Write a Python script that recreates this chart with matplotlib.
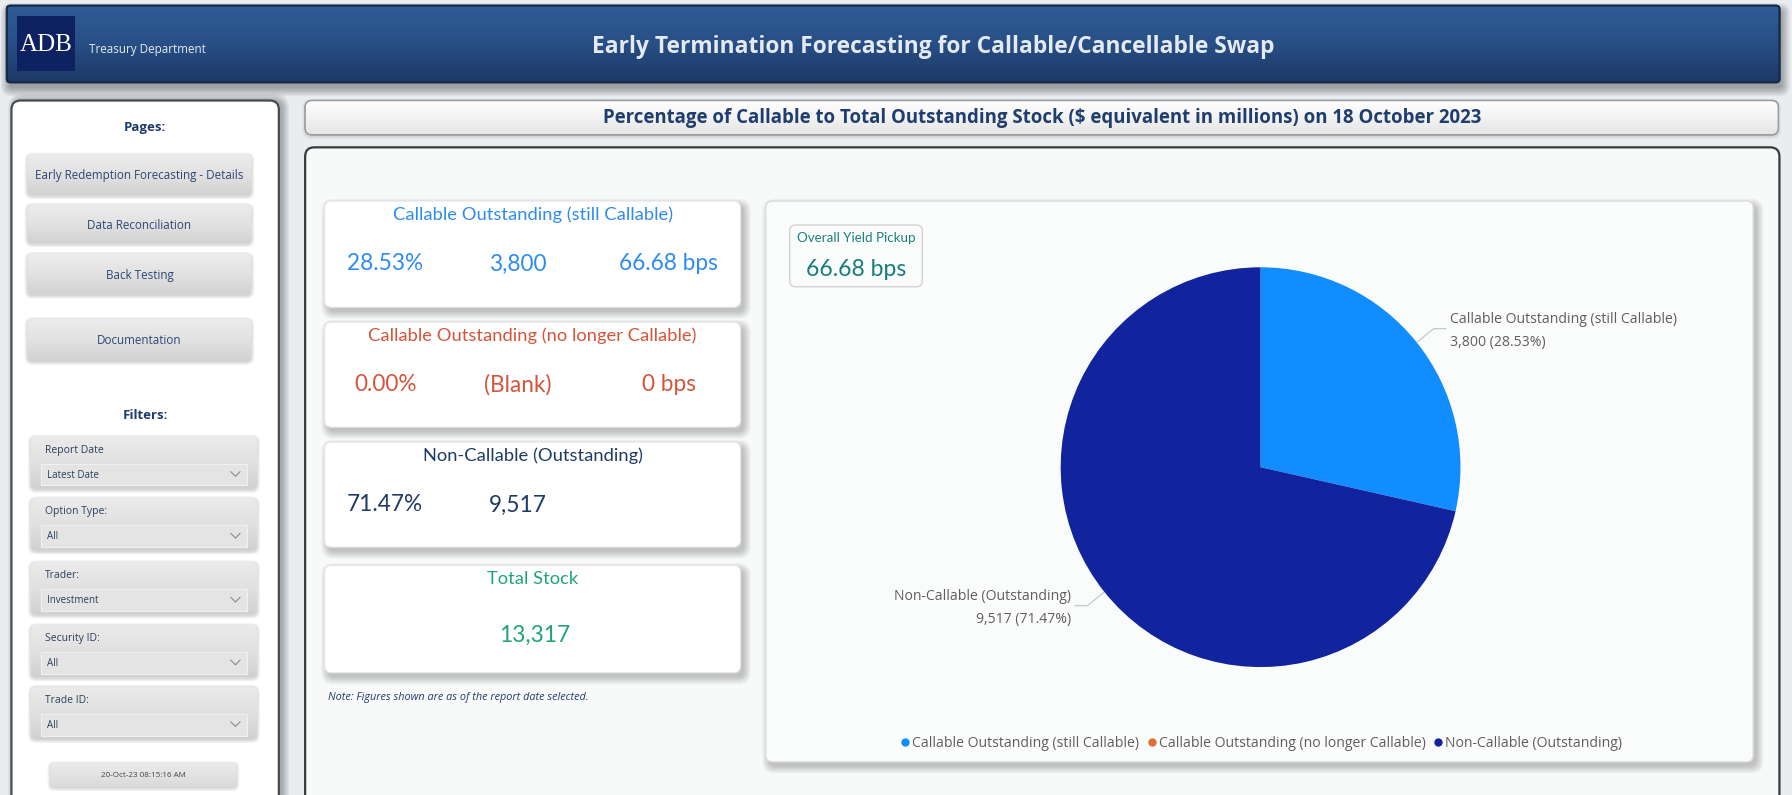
import numpy as np
import matplotlib
matplotlib.use("Agg")
import matplotlib.pyplot as plt
from matplotlib.patches import FancyBboxPatch, Rectangle
from matplotlib.colors import LinearSegmentedColormap
from matplotlib.lines import Line2D

# ---------------- data ----------------
segments = ["Callable Outstanding (still Callable)",
            "Callable Outstanding (no longer Callable)",
            "Non-Callable (Outstanding)"]
amounts = [3800, 0, 9517]
amount_labels = ["3,800", "0", "9,517"]
shares = [28.53, 0.00, 71.47]
seg_colors = ["#118DFF", "#E66C37", "#12239E"]

card_titles = ["Callable Outstanding (still Callable)",
               "Callable Outstanding (no longer Callable)",
               "Non-Callable (Outstanding)",
               "Total Stock"]
card_values = [["28.53%", "3,800", "66.68 bps"],
               ["0.00%", "(Blank)", "0 bps"],
               ["71.47%", "9,517"],
               ["13,317"]]
card_colors = ["#2E8BF2", "#D4553A", "#1E3A66", "#20A47C"]

yield_title = "Overall Yield Pickup"
yield_value = "66.68 bps"

pages = ["Early Redemption Forecasting - Details", "Data Reconciliation",
         "Back Testing", "Documentation"]
filter_labels = ["Report Date", "Option Type:", "Trader:", "Security ID:", "Trade ID:"]
filter_values = ["Latest Date", "All", "Investment", "All", "All"]
timestamp = "20-Oct-23 08:15:16 AM"

title = "Early Termination Forecasting for Callable/Cancellable Swap"
subtitle = ("Percentage of Callable to Total Outstanding Stock ($ equivalent in millions) "
            "on 18 October 2023")
note = "Note: Figures shown are as of the report date selected."

# ---------------- figure ----------------
W, H = 1568, 696  # working coordinate system (scaled to 1792x795 output)
fig = plt.figure(figsize=(17.92, 7.95), dpi=100)
fig.patch.set_facecolor("#E9EDF0")
ax = fig.add_axes([0, 0, 1, 1])
ax.set_xlim(0, W)
ax.set_ylim(H, 0)
ax.axis("off")

UI = "Open Sans"
DIN = "Lato"
NAVY = "#1F3D6E"


def shadow(x, y, w, h, r, dx=3, dy=4, n=6, alpha=0.035, z=1):
    for i in range(n):
        p = FancyBboxPatch((x + dx, y + dy), w, h,
                           boxstyle=f"round,pad={i*1.2},rounding_size={r + i}",
                           fc="black", ec="none", alpha=alpha, zorder=z)
        ax.add_patch(p)


def box(x, y, w, h, r, fc, ec="none", lw=1.0, z=2, sh=True, grad=None, **kw):
    if sh:
        shadow(x, y, w, h, r, z=z - 0.5, **kw)
    p = FancyBboxPatch((x, y), w, h, boxstyle=f"round,pad=0,rounding_size={r}",
                       fc=fc, ec=ec, lw=lw, zorder=z)
    ax.add_patch(p)
    if grad is not None:
        cmap = LinearSegmentedColormap.from_list("g", grad)
        g = np.linspace(0, 1, 256).reshape(-1, 1)
        im = ax.imshow(g, extent=(x, x + w, y + h, y), cmap=cmap, aspect="auto",
                       origin="upper", zorder=z + 0.1, interpolation="bicubic")
        im.set_clip_path(p)
        p2 = FancyBboxPatch((x, y), w, h, boxstyle=f"round,pad=0,rounding_size={r}",
                            fc="none", ec=ec, lw=lw, zorder=z + 0.2)
        ax.add_patch(p2)
    return p


# ---------------- header ----------------
box(6, 5, 1551, 67, 3, "#284F86", ec="#162A4A", lw=1.5, z=2,
    grad=["#2F5D97", "#284F86", "#1C3866"], dx=2, dy=5, n=7, alpha=0.05)
ax.add_patch(Rectangle((15, 14), 51, 48, fc="#0E2160", ec="none", zorder=4))
ax.text(40.5, 39, "ADB", family="Liberation Serif", fontsize=18, color="white",
        ha="center", va="center", zorder=5)
ax.text(78, 43, "Treasury Department", family=UI, fontsize=8.4, color="#E6ECF4",
        ha="left", va="center", zorder=5)
ax.text(817, 41, title, family=UI, fontsize=16.4, fontweight="bold", color="#E4EAF2",
        ha="center", va="center", zorder=5)

# ---------------- sidebar ----------------
box(10, 88, 234, 640, 8, "white", ec="#4A4A4A", lw=1.6, z=2, dx=3, dy=0, n=6, alpha=0.05)
ax.text(127, 112, "Pages:", family=UI, fontsize=9.5, fontweight="bold", color=NAVY,
        ha="center", va="center", zorder=5)
btn_rows = [(135, 171), (179, 213), (222, 258), (279, 316)]
for (y0, y1), lab in zip(btn_rows, pages):
    box(24, y0, 196, y1 - y0, 5, "#E3E3E3", z=3,
        grad=["#EDEDED", "#E2E2E2", "#D2D2D2"], dx=0, dy=1, n=3, alpha=0.06)
    ax.text(122, (y0 + y1) / 2 + 1, lab, family=UI, fontsize=8.4, color="#2B4872",
            ha="center", va="center", zorder=5)

ax.text(127, 364, "Filters:", family=UI, fontsize=9.5, fontweight="bold", color=NAVY,
        ha="center", va="center", zorder=5)
filt_rows = [382, 436, 492, 547, 601]
for y0, lab, val in zip(filt_rows, filter_labels, filter_values):
    box(27, y0, 198, 46, 5, "#E3E3E3", z=3,
        grad=["#EBEBEB", "#E1E1E1", "#D0D0D0"], dx=0, dy=1, n=3, alpha=0.06)
    ax.text(39, y0 + 12, lab, family=UI, fontsize=7.5, color="#2B3F5E",
            ha="left", va="center", zorder=5)
    ax.add_patch(Rectangle((36, y0 + 24), 180, 19, fc="#E4E4E4", ec="#F0F0F0",
                           lw=0.8, zorder=4.5))
    ax.text(41, y0 + 34, val, family=UI, fontsize=7, color="#2B3F5E",
            ha="left", va="center", zorder=5)
    ax.plot([202, 206, 210], [y0 + 31, y0 + 35, y0 + 31], color="#8A8A8A", lw=0.8,
            zorder=5)

box(44, 668, 163, 21, 4, "#E0E0E0", z=3, grad=["#EBEBEB", "#DADADA"], dx=0, dy=1,
    n=3, alpha=0.06)
ax.text(125.5, 679, timestamp, family=UI, fontsize=5.8, color="#444444",
        ha="center", va="center", zorder=5)

# ---------------- subtitle bar ----------------
box(267, 88, 1289, 30, 6, "#F4F4F4", ec="#9A9A9A", lw=1.0, z=2,
    grad=["#FFFFFF", "#F3F3F3", "#E4E4E4"], dx=0, dy=1, n=3, alpha=0.05)
ax.text(912, 103, subtitle, family=UI, fontsize=13.4, fontweight="bold", color=NAVY,
        ha="center", va="center", zorder=5)

# ---------------- main panel ----------------
box(267, 129, 1290, 600, 8, "#F8F9F9", ec="#3A3A3A", lw=1.6, z=2, sh=False)

card_rows = [(176, 269), (282, 374), (387, 479), (495, 589)]
val_x = [337, 453, 585]
for (y0, y1), t, vals, c in zip(card_rows, card_titles, card_values, card_colors):
    box(284, y0, 364, y1 - y0, 6, "white", ec="#E4E4E4", lw=0.8, z=3,
        dx=3, dy=4, n=6, alpha=0.04)
    ax.text(466, y0 + 12, t, family=DIN, fontsize=13.2, color=c,
            ha="center", va="center", zorder=5)
    if len(vals) == 1:
        ax.text(468, y0 + 61, vals[0], family=DIN, fontsize=16.3, color=c,
                ha="center", va="center", zorder=5)
    else:
        for xv, v in zip(val_x, vals):
            ax.text(xv, y0 + 55, v, family=DIN, fontsize=16.3, color=c,
                    ha="center", va="center", zorder=5)

ax.text(287, 611, note, family=UI, fontsize=7.8, style="italic", color=NAVY,
        ha="left", va="center", zorder=5)

# pie panel
box(670, 176, 864, 491, 6, "#FAFBFB", ec="#DCDCDC", lw=1.0, z=3,
    dx=3, dy=4, n=6, alpha=0.04)
box(691, 197, 116, 54, 5, "#FAFBFB", ec="#D2D2D2", lw=1.0, z=4, sh=False)
ax.text(749, 208, yield_title, family=DIN, fontsize=9.6, color="#1B7F80",
        ha="center", va="center", zorder=5)
ax.text(749, 236, yield_value, family=DIN, fontsize=16.5, color="#167C7C",
        ha="center", va="center", zorder=5)

# ---------------- pie ----------------
cx, cy, R = 1103, 409, 175
pax = fig.add_axes([(cx - R) / W, 1 - (cy + R) / H, 2 * R / W, 2 * R / H])
pax.set_zorder(10)
wedges, _ = pax.pie(amounts, colors=seg_colors, startangle=90, counterclock=False,
                    radius=1.0, wedgeprops=dict(linewidth=0))
pax.set_xlim(-1, 1)
pax.set_ylim(-1, 1)
pax.set_aspect("equal")
pax.axis("off")
pax.patch.set_alpha(0)

for w, amt, lab, name, sh in zip(wedges, amounts, amount_labels, segments, shares):
    if amt == 0:
        continue
    ang = np.deg2rad((w.theta1 + w.theta2) / 2)
    p0 = np.array([np.cos(ang), np.sin(ang)]) * 1.005
    p1 = np.array([np.cos(ang), np.sin(ang)]) * 1.11
    side = 1 if np.cos(ang) >= 0 else -1
    p2 = p1 + np.array([0.06 * side, 0])
    pax.plot([p0[0], p1[0], p2[0]], [p0[1], p1[1], p2[1]], color="#C8C8C8", lw=0.9,
             clip_on=False)
    ha = "left" if side > 0 else "right"
    tx = p2[0] + 0.02 * side
    pax.text(tx, p2[1] + 0.01, name, family=UI, fontsize=10.1, color="#605E5C",
             ha=ha, va="bottom", clip_on=False)
    pax.text(tx, p2[1] - 0.03, f"{lab} ({sh:.2f}%)", family=UI, fontsize=10.1,
             color="#605E5C", ha=ha, va="top", clip_on=False)

handles = [Line2D([0], [0], marker="o", ls="none", markersize=6, markerfacecolor=c,
                  markeredgecolor="none") for c in seg_colors]
fig.legend(handles, segments, loc="center", bbox_to_anchor=(1103 / W, 1 - 651 / H),
           ncol=3, frameon=False, handletextpad=0.05, columnspacing=0.45,
           handlelength=0.9, prop=dict(family=UI, size=10.1), labelcolor="#605E5C")

fig.savefig("out.png", dpi=100, facecolor=fig.get_facecolor())
